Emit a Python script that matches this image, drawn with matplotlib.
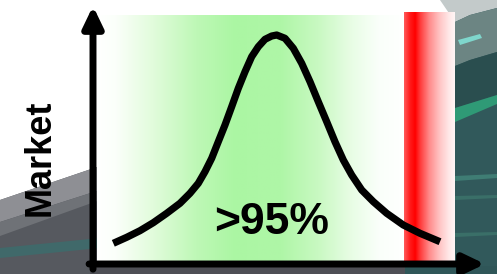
import numpy as np
import matplotlib
matplotlib.use("Agg")
import matplotlib.pyplot as plt
from matplotlib.colors import to_rgb

# bell curve (x: 0-100 along the axis, y: 0-100 up the axis)
curve_x = [5.18, 8.60, 11.99, 15.38, 18.80, 22.19, 24.74, 26.86, 28.57, 30.28,
           31.96, 33.67, 35.38, 37.07, 38.78, 40.48, 42.17, 43.88, 45.59, 46.86,
           48.98, 51.10, 53.24, 55.36, 57.47, 59.62, 61.73, 63.85, 65.99, 68.55,
           71.51, 74.92, 79.16, 83.42, 88.52]
curve_y = [8.02, 10.35, 12.91, 16.01, 19.65, 23.53, 27.40, 31.28, 35.78, 40.97,
           47.40, 53.88, 60.97, 68.10, 74.53, 80.35, 84.22, 87.09, 88.37, 88.76,
           87.48, 83.60, 77.79, 70.66, 62.91, 55.16, 47.40, 40.31, 34.50, 28.68,
           24.15, 19.65, 15.12, 11.90, 8.64]
axis_label = "Market"
share_label = ">95%"

W, H = 497, 274
fig = plt.figure(figsize=(W / 100, H / 100), dpi=100)

# background layer in pixel coordinates
bg = fig.add_axes([0, 0, 1, 1])
bg.set_xlim(0, W)
bg.set_ylim(H, 0)
bg.axis("off")

def poly(pts, color, z=0):
    xs, ys = zip(*pts)
    bg.fill(xs, ys, color=color, lw=0, zorder=z)

# lower-left grey slab
poly([(0, 200), (100, 166), (100, 274), (0, 274)], "#56595f")
poly([(0, 200), (100, 166), (100, 190), (0, 222)], "#8e8f94", 0.1)
poly([(0, 222), (100, 190), (100, 200), (0, 236)], "#6f7277", 0.1)
poly([(0, 248), (100, 238), (100, 248), (0, 258)], "#40696a", 0.2)
# bottom strip
poly([(90, 266), (405, 266), (405, 274), (90, 274)], "#4e4f55", 0.1)
poly([(405, 266), (497, 266), (497, 274), (405, 274)], "#2f5658", 0.1)
# right side scenery
poly([(455, 0), (497, 0), (497, 274), (455, 274)], "#31595b")
poly([(440, 0), (497, 0), (497, 8), (470, 15), (455, 22)], "#c3caca", 0.1)
poly([(455, 22), (470, 15), (497, 8), (497, 52), (470, 60), (455, 66)], "#6c8583", 0.1)
poly([(458, 40), (480, 34), (482, 38), (460, 45)], "#7fd6cc", 0.2)
poly([(455, 66), (470, 60), (497, 52), (497, 95), (455, 108)], "#2a4e4f", 0.1)
poly([(455, 108), (497, 95), (497, 104), (455, 122)], "#2f9a76", 0.2)
poly([(455, 176), (497, 174), (497, 178), (455, 181)], "#3f7d74", 0.2)
poly([(455, 196), (497, 195), (497, 198), (455, 200)], "#3a6f68", 0.2)
poly([(455, 233), (497, 232), (497, 235), (455, 237)], "#3a6f68", 0.2)

def gradient(x0, x1, y0, y1, stops, z):
    xs = np.linspace(0, 1, 300)
    pos = [s[0] for s in stops]
    cols = np.array([to_rgb(s[1]) for s in stops])
    img = np.stack([np.interp(xs, pos, cols[:, i]) for i in range(3)], axis=-1)
    bg.imshow(img[None, :, :], extent=(x0, x1, y1, y0), aspect="auto",
              interpolation="bilinear", zorder=z)

# green band behind the curve
gradient(97, 404, 15, 262,
         [(0.0, "#ffffff"), (0.06, "#fbfffa"), (0.18, "#e2fcdc"), (0.32, "#bff8b7"),
          (0.45, "#abf6a3"), (0.6, "#aff6a7"), (0.72, "#c8f9c1"), (0.83, "#e8fde5"),
          (0.92, "#fafffa"), (1.0, "#ffffff")], 1)
# red tail band
gradient(404, 455, 12, 262,
         [(0.0, "#ff5a5a"), (0.12, "#ff1a1a"), (0.22, "#ff0000"), (0.32, "#ff3c3c"),
          (0.5, "#ff8c8c"), (0.7, "#ffc4c4"), (0.88, "#ffe8e8"), (1.0, "#fff6f6")], 1)
bg.set_xlim(0, W)
bg.set_ylim(H, 0)

# chart axes over the plotting region
ax = fig.add_axes([93 / W, (H - 264) / H, (485 - 93) / W, (264 - 6) / H])
ax.set_xlim(0, 100)
ax.set_ylim(0, 100)
ax.axis("off")
ax.patch.set_alpha(0)

ax.plot(curve_x, curve_y, color="black", lw=5.2, solid_capstyle="butt",
        solid_joinstyle="round", zorder=3)

arrow = dict(arrowstyle="-|>,head_length=1.25,head_width=0.6", color="black",
             lw=5, shrinkA=0, shrinkB=0)
ax.annotate("", xy=(0.0, 1.0), xytext=(0.0, -0.02), xycoords="axes fraction",
            arrowprops=arrow, zorder=4)
ax.annotate("", xy=(1.0, 0.0), xytext=(-0.01, 0.0), xycoords="axes fraction",
            arrowprops=arrow, zorder=4)

ax.text(45.6, 11.8, share_label, ha="center", va="baseline",
        fontsize=32, fontweight="bold", family="Liberation Sans", zorder=5)
bg.text(40, 158, axis_label, ha="center", va="center", rotation=90,
        fontsize=26, fontweight="bold", family="Liberation Sans", zorder=5)

fig.savefig("out.png", dpi=100)
